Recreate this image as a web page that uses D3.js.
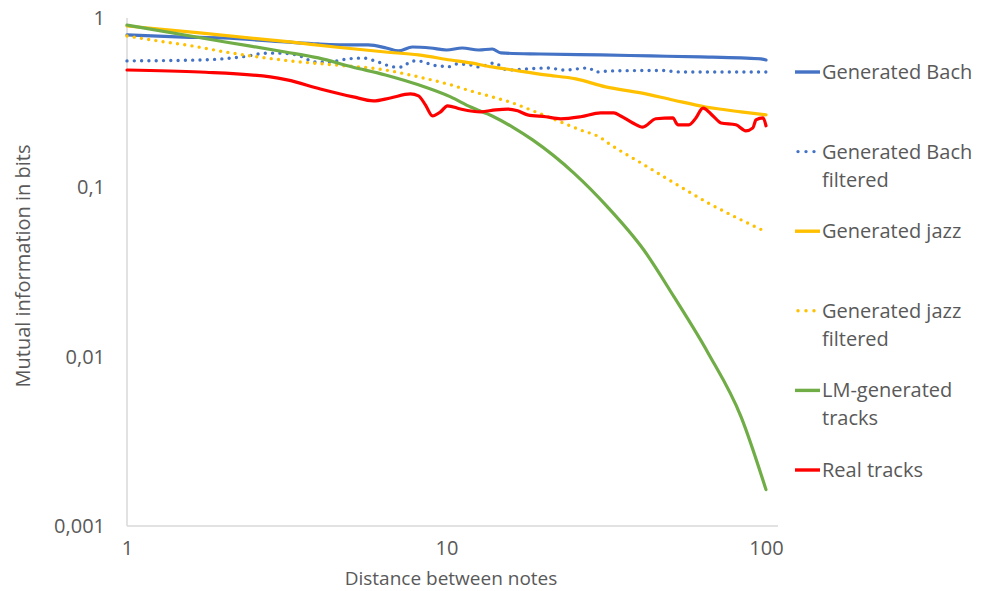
<!DOCTYPE html>
<html>
<head>
<meta charset="utf-8">
<script src="https://cdn.jsdelivr.net/npm/d3@7"></script>
<style>
  body { margin: 0; background: #fff; }
  text { font-family: "Open Sans", sans-serif; fill: #595959; }
</style>
</head>
<body>
<script>
// Data: [distance, mutual information in bits]
let bachDist = [1, 1.5, 2, 3.13, 3.97, 5.07, 5.69, 6.48, 7.07, 7.82, 8.91, 10, 11.2, 12.6, 13.9, 14.8, 19.7, 30.4, 43.6, 62.5, 83.5, 96.4, 100];
let bachMI = [0.794, 0.772, 0.762, 0.722, 0.703, 0.693, 0.693, 0.665, 0.639, 0.674, 0.665, 0.647, 0.665, 0.647, 0.656, 0.622, 0.613, 0.605, 0.597, 0.589, 0.581, 0.573, 0.565];

let bachFiltDist = [1, 1.7, 2.3, 2.75, 3.0, 3.4, 3.9, 4.3, 4.9, 5.5, 6.1, 6.9, 7.3, 7.6, 8.0, 8.5, 9.0, 9.6, 10.1, 10.7, 11.9, 12.6, 13.4, 14.1, 15.5, 17.7, 20.9, 23.3, 27.9, 29.3, 32.7, 47, 54, 100];
let bachFiltMI = [0.558, 0.565, 0.59, 0.62, 0.62, 0.605, 0.55, 0.55, 0.573, 0.58, 0.55, 0.514, 0.514, 0.543, 0.558, 0.55, 0.528, 0.521, 0.514, 0.535, 0.528, 0.514, 0.528, 0.543, 0.493, 0.50, 0.507, 0.493, 0.507, 0.48, 0.487, 0.49, 0.48, 0.48];

let jazzDist = [1, 1.69, 3.24, 4.48, 6.44, 8.17, 10.3, 11.9, 13.9, 16.1, 20.4, 25.4, 31.5, 40.6, 51.1, 64.8, 83.5, 100];
let jazzMI = [0.897, 0.816, 0.722, 0.674, 0.630, 0.605, 0.565, 0.543, 0.514, 0.493, 0.461, 0.437, 0.392, 0.361, 0.328, 0.298, 0.279, 0.268];

let jazzFiltDist = [1, 1.25, 1.6, 2.03, 2.57, 3.24, 4.48, 6.44, 8.17, 10.3, 11.9, 13.9, 16.1, 19.0, 22.8, 26.3, 30.4, 32.0, 40.6, 51.5, 65.8, 83.5, 100];
let jazzFiltMI = [0.783, 0.732, 0.684, 0.630, 0.589, 0.558, 0.528, 0.493, 0.449, 0.403, 0.371, 0.342, 0.315, 0.279, 0.243, 0.218, 0.196, 0.183, 0.1394, 0.1063, 0.081, 0.0643, 0.0546];

let lmDist = [1, 2.03, 3.13, 3.97, 5.07, 6.44, 8.17, 10.3, 11.9, 13.9, 16.1, 18.6, 25.0, 31.9, 41.4, 51.5, 65.8, 83.5, 100];
let lmMI = [0.909, 0.722, 0.630, 0.581, 0.514, 0.461, 0.403, 0.342, 0.298, 0.264, 0.227, 0.1906, 0.1218, 0.0767, 0.0428, 0.0226, 0.01056, 0.00443, 0.00164];

let realDist = [1, 1.69, 2.81, 3.17, 4.03, 5.11, 5.90, 6.67, 7.71, 8.17, 8.59, 9.04, 9.58, 10.07, 11.06, 12.79, 14.25, 15.53, 16.7, 17.94, 20.43, 22.77, 26.3, 30.38, 33.4, 35.1, 38.29, 41.14, 45.2, 51.08, 52.97, 57.38, 60.35, 63.48, 68.26, 72.3, 80.5, 86.5, 91.0, 93.0, 97.9, 100];
let realMI = [0.493, 0.480, 0.449, 0.431, 0.381, 0.342, 0.324, 0.337, 0.356, 0.347, 0.307, 0.264, 0.279, 0.303, 0.290, 0.279, 0.287, 0.290, 0.283, 0.268, 0.261, 0.254, 0.261, 0.275, 0.275, 0.264, 0.240, 0.227, 0.254, 0.257, 0.234, 0.234, 0.257, 0.294, 0.264, 0.240, 0.234, 0.2155, 0.2245, 0.250, 0.257, 0.231];

let seriesNames = ["Generated Bach", "Generated Bach filtered", "Generated jazz", "Generated jazz filtered", "LM-generated tracks", "Real tracks"];
let legendLines = [["Generated Bach"], ["Generated Bach", "filtered"], ["Generated jazz"], ["Generated jazz", "filtered"], ["LM-generated", "tracks"], ["Real tracks"]];
let seriesColors = ["#4472C4", "#4472C4", "#FFC000", "#FFC000", "#70AD47", "#FF0000"];
let seriesDotted = [false, true, false, true, false, false];

let xTicks = [1, 10, 100];
let yTicks = [0.001, 0.01, 0.1, 1];

function zip(xs, ys) {
  return xs.map((d, i) => ({dist: d, mi: ys[i]}));
}

let allSeries = [
  zip(bachDist, bachMI),
  zip(bachFiltDist, bachFiltMI),
  zip(jazzDist, jazzMI),
  zip(jazzFiltDist, jazzFiltMI),
  zip(lmDist, lmMI),
  zip(realDist, realMI)
];

function drawChart() {
  let width = 991;
  let height = 591;

  let svg = d3.select("body")
    .append("svg")
    .attr("width", width)
    .attr("height", height);

  let x = d3.scaleLog().domain([1, 100]).range([127, 766]);
  let y = d3.scaleLog().domain([0.001, 1]).range([526, 18]);

  // axes
  let xAxis = svg.append("g")
    .attr("transform", "translate(0,526)")
    .call(d3.axisBottom(x).tickValues(xTicks).tickSize(0).tickPadding(15).tickFormat(d3.format("d")));
  xAxis.select(".domain").remove();
  xAxis.selectAll("text").style("font-size", "20px").attr("fill", "#595959");

  let yAxis = svg.append("g")
    .attr("transform", "translate(127,0)")
    .call(d3.axisLeft(y).tickValues(yTicks).tickSize(0).tickPadding(22)
      .tickFormat(d => String(d).replace(".", ",")));
  yAxis.select(".domain").remove();
  yAxis.selectAll("text").style("font-size", "20px").attr("fill", "#595959");

  // axis lines, the horizontal one runs a bit past 100 like the original
  svg.append("line")
    .attr("x1", x(1)).attr("x2", x(1))
    .attr("y1", y(1)).attr("y2", y(0.001))
    .attr("stroke", "#d9d9d9").attr("stroke-width", 1.5);
  svg.append("line")
    .attr("x1", x(1)).attr("x2", x(100) + 12)
    .attr("y1", y(0.001)).attr("y2", y(0.001))
    .attr("stroke", "#d9d9d9").attr("stroke-width", 1.5);

  // axis titles
  svg.append("text")
    .attr("x", 451).attr("y", 585)
    .attr("text-anchor", "middle")
    .style("font-size", "19px")
    .text("Distance between notes");
  svg.append("text")
    .attr("transform", "translate(30,266) rotate(-90)")
    .attr("text-anchor", "middle")
    .style("font-size", "20px")
    .text("Mutual information in bits");

  let line = d3.line()
    .x(d => x(d.dist))
    .y(d => y(d.mi))
    .curve(d3.curveMonotoneX);

  svg.selectAll("path.series")
    .data(allSeries)
    .enter()
    .append("path")
    .attr("class", "series")
    .attr("d", line)
    .attr("fill", "none")
    .attr("stroke", (d, i) => seriesColors[i])
    .attr("stroke-width", (d, i) => seriesDotted[i] ? 3.4 : 3.2)
    .attr("stroke-linecap", "round")
    .attr("stroke-linejoin", "round")
    .attr("stroke-dasharray", (d, i) => seriesDotted[i] ? "0 7.3" : null);

  // legend
  let legend = svg.append("g");
  seriesNames.forEach((name, i) => {
    let ly = 72 + i * 79.6;
    legend.append("line")
      .attr("x1", seriesDotted[i] ? 798 : 795).attr("x2", 820)
      .attr("y1", ly).attr("y2", ly)
      .attr("stroke", seriesColors[i])
      .attr("stroke-width", 3.4)
      .attr("stroke-linecap", seriesDotted[i] ? "round" : "butt")
      .attr("stroke-dasharray", seriesDotted[i] ? "0 8" : null);
    let t = legend.append("text")
      .attr("x", 822)
      .attr("y", ly + 7)
      .style("font-size", "20px");
    legendLines[i].forEach((part, j) => {
      t.append("tspan")
        .attr("x", 822)
        .attr("dy", j == 0 ? 0 : 28)
        .text(part);
    });
  });
}

drawChart();
</script>
</body>
</html>
